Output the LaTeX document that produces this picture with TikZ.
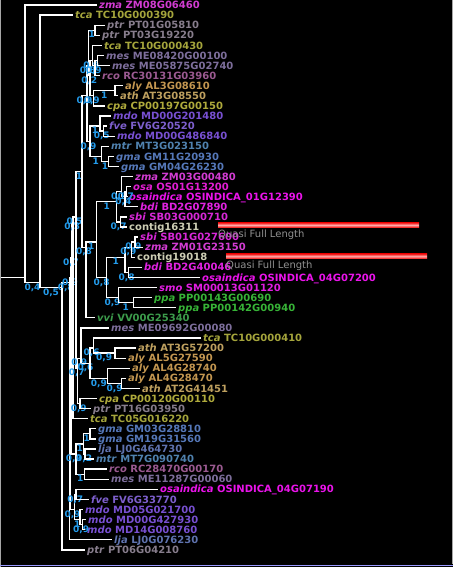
\documentclass[tikz,border=0pt]{standalone}
\usepackage{fontspec}
\setmainfont{DejaVu Sans}
\usetikzlibrary{positioning}
\definecolor{zmaCol}{RGB}{210,60,210}
\definecolor{tcaCol}{RGB}{165,165,60}
\definecolor{ptrCol}{RGB}{135,125,140}
\definecolor{mesCol}{RGB}{125,110,155}
\definecolor{rcoCol}{RGB}{155,90,145}
\definecolor{alyCol}{RGB}{195,150,80}
\definecolor{athCol}{RGB}{190,160,95}
\definecolor{cpaCol}{RGB}{175,170,60}
\definecolor{mdoCol}{RGB}{120,80,210}
\definecolor{fveCol}{RGB}{125,95,205}
\definecolor{mtrCol}{RGB}{80,130,175}
\definecolor{gmaCol}{RGB}{85,120,185}
\definecolor{osaCol}{RGB}{225,30,210}
\definecolor{osiCol}{RGB}{235,20,235}
\definecolor{bdiCol}{RGB}{225,35,225}
\definecolor{sbiCol}{RGB}{215,40,215}
\definecolor{contigCol}{RGB}{205,205,180}
\definecolor{smoCol}{RGB}{225,30,225}
\definecolor{ppaCol}{RGB}{55,180,55}
\definecolor{vviCol}{RGB}{60,155,75}
\definecolor{ljaCol}{RGB}{95,115,175}
\definecolor{quasiCol}{RGB}{145,145,145}
\definecolor{supportCol}{RGB}{35,155,235}
\definecolor{barRed}{RGB}{240,0,0}
\definecolor{barPink}{RGB}{255,170,170}
\newcommand{\spc}[1]{\textit{#1}}
\tikzset{%
  % Specifications for style of branches and labels:
      branch/.style = {draw=white, line width=1.3pt},
        leaf/.style = {anchor=west, inner xsep=2pt, inner ysep=0pt,
                       text height=7.3pt, text depth=0pt,
                       font=\bfseries\fontsize{10}{12}\selectfont},
     support/.style = {pos=0.75, below, inner sep=0.4pt, text=supportCol,
                       font=\bfseries\fontsize{9}{11}\selectfont},
    quasiBar/.style = {anchor=west, minimum width=201pt, minimum height=5.4pt,
                       inner sep=0pt, top color=barRed, bottom color=barRed,
                       middle color=barPink},
   quasiText/.style = {inner sep=0pt, text=quasiCol,
                       font=\fontsize{10}{12}\selectfont},
}
\begin{document}
\begin{tikzpicture}[x=1pt, y=-1pt]
  \fill[black] (0,0) rectangle (453,567);
  \useasboundingbox (0,0) rectangle (453,567);
  % Specification of leaves (position, etc.)
  \node[leaf, text=zmaCol] (zma06460) at (97,5) {\spc{zma} ZM08G06460};
  \node[leaf, text=tcaCol] (tca000390) at (73,15.1) {\spc{tca} TC10G000390};
  \node[leaf, text=ptrCol] (ptr05810) at (105,25.2) {\spc{ptr} PT01G05810};
  \node[leaf, text=ptrCol] (ptr19220) at (100,35.3) {\spc{ptr} PT03G19220};
  \node[leaf, text=tcaCol] (tca000430) at (102,45.4) {\spc{tca} TC10G000430};
  \node[leaf, text=mesCol] (mes00100) at (104,55.5) {\spc{mes} ME08420G00100};
  \node[leaf, text=mesCol] (mes02740) at (110,65.5) {\spc{mes} ME05875G02740};
  \node[leaf, text=rcoCol] (rco03960) at (100,75.6) {\spc{rco} RC30131G03960};
  \node[leaf, text=alyCol] (aly08610) at (123,85.7) {\spc{aly} AL3G08610};
  \node[leaf, text=athCol] (ath08550) at (118,95.8) {\spc{ath} AT3G08550};
  \node[leaf, text=cpaCol] (cpa00150) at (105,105.9) {\spc{cpa} CP00197G00150};
  \node[leaf, text=mdoCol] (mdo201480) at (111,116) {\spc{mdo} MD00G201480};
  \node[leaf, text=fveCol] (fve20520) at (107,126.1) {\spc{fve} FV6G20520};
  \node[leaf, text=mdoCol] (mdo486840) at (115,136.2) {\spc{mdo} MD00G486840};
  \node[leaf, text=mtrCol] (mtr023150) at (109,146.3) {\spc{mtr} MT3G023150};
  \node[leaf, text=gmaCol] (gma20930) at (114,156.4) {\spc{gma} GM11G20930};
  \node[leaf, text=gmaCol] (gma26230) at (119,166.4) {\spc{gma} GM04G26230};
  \node[leaf, text=zmaCol] (zma00480) at (133,176.5) {\spc{zma} ZM03G00480};
  \node[leaf, text=osaCol] (osa13200) at (131,186.6) {\spc{osa} OS01G13200};
  \node[leaf, text=osiCol] (osi12390) at (127,196.7) {\spc{osaindica} OSINDICA\_01G12390};
  \node[leaf, text=bdiCol] (bdi07890) at (138,206.8) {\spc{bdi} BD2G07890};
  \node[leaf, text=sbiCol] (sbi000710) at (127,216.9) {\spc{sbi} SB03G000710};
  \node[leaf, text=contigCol] (contig16311) at (127,227) {contig16311};
  \node[leaf, text=sbiCol] (sbi027600) at (138,237.1) {\spc{sbi} SB01G027600};
  \node[leaf, text=zmaCol] (zma23150) at (143,247.2) {\spc{zma} ZM01G23150};
  \node[leaf, text=contigCol] (contig19018) at (135,257.3) {contig19018};
  \node[leaf, text=bdiCol] (bdi40046) at (142,267.3) {\spc{bdi} BD2G40046};
  \node[leaf, text=osiCol] (osi07200) at (200,277.4) {\spc{osaindica} OSINDICA\_04G07200};
  \node[leaf, text=smoCol] (smo01120) at (157,287.5) {\spc{smo} SM00013G01120};
  \node[leaf, text=ppaCol] (ppa00690) at (152,297.6) {\spc{ppa} PP00143G00690};
  \node[leaf, text=ppaCol] (ppa00940) at (176,307.7) {\spc{ppa} PP00142G00940};
  \node[leaf, text=vviCol] (vvi25340) at (95,317.8) {\spc{vvi} VV00G25340};
  \node[leaf, text=mesCol] (mes00080) at (109,327.9) {\spc{mes} ME09692G00080};
  \node[leaf, text=tcaCol] (tca000410) at (201,338) {\spc{tca} TC10G000410};
  \node[leaf, text=athCol] (ath57200) at (136,348.1) {\spc{ath} AT3G57200};
  \node[leaf, text=alyCol] (aly27590) at (126,358.2) {\spc{aly} AL5G27590};
  \node[leaf, text=alyCol] (aly28740) at (130,368.2) {\spc{aly} AL4G28740};
  \node[leaf, text=alyCol] (aly28470) at (126,378.3) {\spc{aly} AL4G28470};
  \node[leaf, text=athCol] (ath41451) at (140,388.4) {\spc{ath} AT2G41451};
  \node[leaf, text=cpaCol] (cpa00110) at (97,398.5) {\spc{cpa} CP00120G00110};
  \node[leaf, text=ptrCol] (ptr03950) at (91,408.6) {\spc{ptr} PT16G03950};
  \node[leaf, text=tcaCol] (tca016220) at (88,418.7) {\spc{tca} TC05G016220};
  \node[leaf, text=gmaCol] (gma28810) at (96,428.8) {\spc{gma} GM03G28810};
  \node[leaf, text=gmaCol] (gma31560) at (96,438.9) {\spc{gma} GM19G31560};
  \node[leaf, text=ljaCol] (lja464730) at (96,449) {\spc{lja} LJ0G464730};
  \node[leaf, text=mtrCol] (mtr090740) at (94,459.1) {\spc{mtr} MT7G090740};
  \node[leaf, text=rcoCol] (rco00170) at (107,469.1) {\spc{rco} RC28470G00170};
  \node[leaf, text=mesCol] (mes00060) at (109,479.2) {\spc{mes} ME11287G00060};
  \node[leaf, text=osiCol] (osi07190) at (158,489.3) {\spc{osaindica} OSINDICA\_04G07190};
  \node[leaf, text=fveCol] (fve33770) at (89,499.4) {\spc{fve} FV6G33770};
  \node[leaf, text=mdoCol] (mdo021700) at (83,509.5) {\spc{mdo} MD05G021700};
  \node[leaf, text=mdoCol] (mdo427930) at (86,519.6) {\spc{mdo} MD00G427930};
  \node[leaf, text=mdoCol] (mdo008760) at (85,529.7) {\spc{mdo} MD14G008760};
  \node[leaf, text=ljaCol] (lja076230) at (112,539.8) {\spc{lja} LJ0G076230};
  \node[leaf, text=ptrCol] (ptr04210) at (85,549.9) {\spc{ptr} PT06G04210};
  % Specification of inner nodes of the tree
  \coordinate (rootStem) at (0,277.4);
  \coordinate (rootNode) at (25,277.4);
  \coordinate (allButZma) at (40,282.5);
  \coordinate (coreTree) at (62,287.5);
  \coordinate (coreNoPtr) at (69.5,282.5);
  \coordinate (coreMain) at (70.5,277.4);
  \coordinate (mainUpper) at (71.5,257.3);
  \coordinate (mainDicot) at (73,222);
  \coordinate (dicotBig) at (76,216.9);
  \coordinate (dicotMono) at (82,171.5);
  \coordinate (dicotTop) at (87,95.8);
  \coordinate (topGroup) at (88.5,65.5);
  \coordinate (ptrPair) at (95,30.3);
  \coordinate (tcaAly) at (90,75.6);
  \coordinate (tcaMes) at (92.5,60.5);
  \coordinate (mesRco) at (95,65.5);
  \coordinate (mesPair) at (97.5,60.5);
  \coordinate (alyCpa) at (93.5,95.8);
  \coordinate (alyPair) at (115,90.8);
  \coordinate (roseLegume) at (90,141.3);
  \coordinate (roseGroup) at (100,126.1);
  \coordinate (fveMdo) at (103.5,131.1);
  \coordinate (legumeGroup) at (101.7,156.4);
  \coordinate (gmaPair) at (108.3,161.4);
  \coordinate (monoVvi) at (86,247.2);
  \coordinate (monoBlock) at (96.7,242.1);
  \coordinate (monoFirst) at (116.7,201.8);
  \coordinate (zmaGroup) at (121.7,191.7);
  \coordinate (oryzaBdi) at (125,196.7);
  \coordinate (oryzaPair) at (126.7,191.7);
  \coordinate (sbiContig) at (120.7,222);
  \coordinate (monoSecond) at (106.7,277.4);
  \coordinate (grassSecond) at (125,257.3);
  \coordinate (sbiZmaContig) at (131.7,247.2);
  \coordinate (sbiZma) at (135,242.1);
  \coordinate (bdiOsi) at (128.3,272.4);
  \coordinate (smoPpa) at (118.3,297.6);
  \coordinate (ppaPair) at (133.3,302.6);
  \coordinate (brassCpa) at (77.5,368.2);
  \coordinate (mesBrass) at (81,358.2);
  \coordinate (tcaBrass) at (90,363.2);
  \coordinate (tcaAth) at (93.3,348.1);
  \coordinate (athAly) at (115,353.1);
  \coordinate (alyAth) at (107.7,378.3);
  \coordinate (alyAthPair) at (121.7,383.4);
  \coordinate (cpaPtr) at (80,403.6);
  \coordinate (legumeRco) at (76,454);
  \coordinate (legumeLow) at (83.3,443.9);
  \coordinate (gmaLowPair) at (90,433.8);
  \coordinate (ljaMtr) at (85,454);
  \coordinate (rcoMes) at (84.3,474.2);
  \coordinate (osiRose) at (74.5,509.5);
  \coordinate (osiFve) at (76,494.4);
  \coordinate (mdoGroup) at (80,519.6);
  \coordinate (mdoPair) at (82.3,524.7);
  % Specification of branches, with support values below them
  \draw[branch] (rootStem) -- (rootNode);
  \draw[branch] (rootNode) |- (zma06460.west);
  \draw[branch] (rootNode) |- node[support]{0,4} (allButZma);
  \draw[branch] (allButZma) |- (tca000390.west);
  \draw[branch] (allButZma) |- node[support]{0,5} (coreTree);
  \draw[branch] (coreTree) |- node[support]{0,8} (coreNoPtr);
  \draw[branch] (coreTree) |- (ptr04210.west);
  \draw[branch] (coreNoPtr) |- node[support]{0,9} (coreMain);
  \draw[branch] (coreNoPtr) |- (lja076230.west);
  \draw[branch] (coreMain) |- node[support]{0,7} (mainUpper);
  \draw[branch] (coreMain) |- node[support]{0,9} (osiRose);
  \draw[branch] (mainUpper) |- node[support]{0,3} (mainDicot);
  \draw[branch] (mainUpper) |- node[support]{0,9} (legumeRco);
  \draw[branch] (mainDicot) |- node[support]{0,5} (dicotBig);
  \draw[branch] (mainDicot) |- (tca016220.west);
  \draw[branch] (dicotBig) |- node[support]{1} (dicotMono);
  \draw[branch] (dicotBig) |- node[support]{0,7} (brassCpa);
  \draw[branch] (dicotMono) |- node[support]{0,9} (dicotTop);
  \draw[branch] (dicotMono) |- node[support]{0,8} (monoVvi);
  \draw[branch] (dicotTop) |- node[support]{0,8} (topGroup);
  \draw[branch] (dicotTop) |- node[support]{0,9} (roseLegume);
  \draw[branch] (topGroup) |- node[support]{1} (ptrPair);
  \draw[branch] (topGroup) |- node[support]{0,2} (tcaAly);
  \draw[branch] (ptrPair) |- (ptr05810.west);
  \draw[branch] (ptrPair) |- (ptr19220.west);
  \draw[branch] (tcaAly) |- node[support]{0,9} (tcaMes);
  \draw[branch] (tcaAly) |- node[support]{0,9} (alyCpa);
  \draw[branch] (tcaMes) |- (tca000430.west);
  \draw[branch] (tcaMes) |- node[support]{0,9} (mesRco);
  \draw[branch] (mesRco) |- (mesPair);
  \draw[branch] (mesRco) |- (rco03960.west);
  \draw[branch] (mesPair) |- (mes00100.west);
  \draw[branch] (mesPair) |- (mes02740.west);
  \draw[branch] (alyCpa) |- node[support]{1} (alyPair);
  \draw[branch] (alyCpa) |- (cpa00150.west);
  \draw[branch] (alyPair) |- (aly08610.west);
  \draw[branch] (alyPair) |- (ath08550.west);
  \draw[branch] (roseLegume) |- node[support]{1} (roseGroup);
  \draw[branch] (roseLegume) |- node[support]{1} (legumeGroup);
  \draw[branch] (roseGroup) |- (mdo201480.west);
  \draw[branch] (roseGroup) |- node[support]{0,5} (fveMdo);
  \draw[branch] (fveMdo) |- (fve20520.west);
  \draw[branch] (fveMdo) |- (mdo486840.west);
  \draw[branch] (legumeGroup) |- (mtr023150.west);
  \draw[branch] (legumeGroup) |- node[support]{1} (gmaPair);
  \draw[branch] (gmaPair) |- (gma20930.west);
  \draw[branch] (gmaPair) |- (gma26230.west);
  \draw[branch] (monoVvi) |- node[support]{1} (monoBlock);
  \draw[branch] (monoVvi) |- (vvi25340.west);
  \draw[branch] (monoBlock) |- node[support]{1} (monoFirst);
  \draw[branch] (monoBlock) |- node[support]{0,8} (monoSecond);
  \draw[branch] (monoFirst) |- node[support]{0,9} (zmaGroup);
  \draw[branch] (monoFirst) |- node[support]{0,7} (sbiContig);
  \draw[branch] (zmaGroup) |- (zma00480.west);
  \draw[branch] (zmaGroup) |- node[support]{0,4} (oryzaBdi);
  \draw[branch] (oryzaBdi) |- node[support]{0,7} (oryzaPair);
  \draw[branch] (oryzaBdi) |- (bdi07890.west);
  \draw[branch] (oryzaPair) |- (osa13200.west);
  \draw[branch] (oryzaPair) |- (osi12390.west);
  \draw[branch] (sbiContig) |- (sbi000710.west);
  \draw[branch] (sbiContig) |- (contig16311.west);
  \draw[branch] (monoSecond) |- node[support]{1} (grassSecond);
  \draw[branch] (monoSecond) |- node[support]{0,9} (smoPpa);
  \draw[branch] (grassSecond) |- node[support]{0,9} (sbiZmaContig);
  \draw[branch] (grassSecond) |- node[support]{0,8} (bdiOsi);
  \draw[branch] (sbiZmaContig) |- node[support]{0,9} (sbiZma);
  \draw[branch] (sbiZmaContig) |- (contig19018.west);
  \draw[branch] (sbiZma) |- (sbi027600.west);
  \draw[branch] (sbiZma) |- (zma23150.west);
  \draw[branch] (bdiOsi) |- (bdi40046.west);
  \draw[branch] (bdiOsi) |- (osi07200.west);
  \draw[branch] (smoPpa) |- (smo01120.west);
  \draw[branch] (smoPpa) |- node[support]{1} (ppaPair);
  \draw[branch] (ppaPair) |- (ppa00690.west);
  \draw[branch] (ppaPair) |- (ppa00940.west);
  \draw[branch] (brassCpa) |- node[support]{0,9} (mesBrass);
  \draw[branch] (brassCpa) |- node[support]{0,9} (cpaPtr);
  \draw[branch] (mesBrass) |- (mes00080.west);
  \draw[branch] (mesBrass) |- node[support]{0,6} (tcaBrass);
  \draw[branch] (tcaBrass) |- node[support]{0,6} (tcaAth);
  \draw[branch] (tcaBrass) |- node[support]{0,9} (alyAth);
  \draw[branch] (tcaAth) |- (tca000410.west);
  \draw[branch] (tcaAth) |- node[support]{0,9} (athAly);
  \draw[branch] (athAly) |- (ath57200.west);
  \draw[branch] (athAly) |- (aly27590.west);
  \draw[branch] (alyAth) |- (aly28740.west);
  \draw[branch] (alyAth) |- node[support]{0,9} (alyAthPair);
  \draw[branch] (alyAthPair) |- (aly28470.west);
  \draw[branch] (alyAthPair) |- (ath41451.west);
  \draw[branch] (cpaPtr) |- (cpa00110.west);
  \draw[branch] (cpaPtr) |- (ptr03950.west);
  \draw[branch] (legumeRco) |- node[support]{1} (legumeLow);
  \draw[branch] (legumeRco) |- node[support]{1} (rcoMes);
  \draw[branch] (legumeLow) |- node[support]{1} (gmaLowPair);
  \draw[branch] (legumeLow) |- node[support]{0,2} (ljaMtr);
  \draw[branch] (gmaLowPair) |- (gma28810.west);
  \draw[branch] (gmaLowPair) |- (gma31560.west);
  \draw[branch] (ljaMtr) |- (lja464730.west);
  \draw[branch] (ljaMtr) |- (mtr090740.west);
  \draw[branch] (rcoMes) |- (rco00170.west);
  \draw[branch] (rcoMes) |- (mes00060.west);
  \draw[branch] (osiRose) |- node[support]{0,7} (osiFve);
  \draw[branch] (osiRose) |- node[support]{1} (mdoGroup);
  \draw[branch] (osiFve) |- (osi07190.west);
  \draw[branch] (osiFve) |- (fve33770.west);
  \draw[branch] (mdoGroup) |- (mdo021700.west);
  \draw[branch] (mdoGroup) |- node[support]{0,9} (mdoPair);
  \draw[branch] (mdoPair) |- (mdo427930.west);
  \draw[branch] (mdoPair) |- (mdo008760.west);
  % Quasi full length marks beside the two contigs
  \node[quasiBar] (barOne) at (218,225) {};
  \node[quasiText, below right=1.5pt and 0pt of barOne.south west] (quasiOne) {Quasi Full Length};
  \node[quasiBar] (barTwo) at (226,256.2) {};
  \node[quasiText, below right=1.8pt and 0pt of barTwo.south west] (quasiTwo) {Quasi Full Length};
  % window frame
  \draw[gray!70, line width=1pt] (0.5,0) -- (0.5,567);
  \draw[gray!70, line width=1pt] (452,0) -- (452,564);
  \draw[blue!40!white, line width=1.5pt] (0,565.5) -- (453,565.5);
\end{tikzpicture}
\end{document}
